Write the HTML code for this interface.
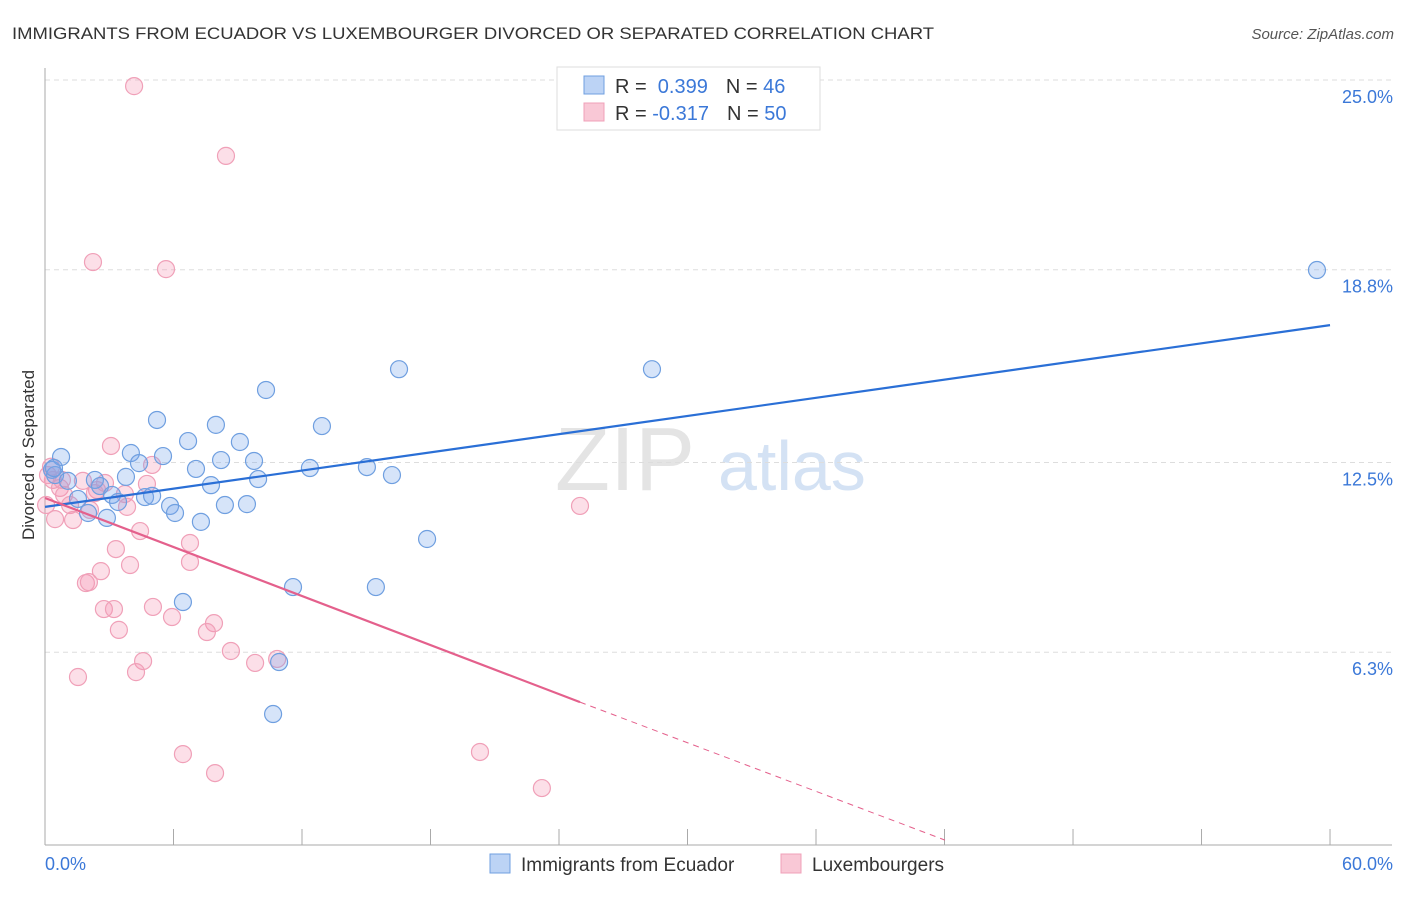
<!DOCTYPE html>
<html><head><meta charset="utf-8"><style>
body{margin:0;background:#fff;font-family:"Liberation Sans",sans-serif;}
svg text{font-family:"Liberation Sans",sans-serif;}
</style></head><body>
<svg id="chart" width="1406" height="892" xmlns="http://www.w3.org/2000/svg">
<text x="12" y="39" font-size="17" fill="#333" textLength="922" lengthAdjust="spacingAndGlyphs">IMMIGRANTS FROM ECUADOR VS LUXEMBOURGER DIVORCED OR SEPARATED CORRELATION CHART</text>
<text x="1394" y="39" font-size="15" fill="#555" font-style="italic" text-anchor="end">Source: ZipAtlas.com</text>
<text x="34" y="455" font-size="17" fill="#333" text-anchor="middle" transform="rotate(-90 34 455)">Divorced or Separated</text>
<text x="555" y="490" font-size="90" fill="#e4e4e4" font-family="Liberation Serif">ZIP</text>
<text x="718" y="490" font-size="70" fill="#d4e2f4">atlas</text>
<g id="grid"></g><g id="axes"></g><g id="pts"></g><g id="trends"></g>
<g>
<rect x="557" y="67" width="263" height="63" fill="#fff" stroke="#ddd"/>
<rect x="584" y="76" width="20" height="18" fill="#bcd3f5" stroke="#6f9fe0"/>
<rect x="584" y="103" width="20" height="18" fill="#f9c8d6" stroke="#f0a0b8"/>
<text x="615" y="93" font-size="20" fill="#333">R = <tspan fill="#3b78d8">&#160;0.399</tspan><tspan dx="18">N = </tspan><tspan fill="#3b78d8">46</tspan></text>
<text x="615" y="120" font-size="20" fill="#333">R = <tspan fill="#3b78d8">-0.317</tspan><tspan dx="18">N = </tspan><tspan fill="#3b78d8">50</tspan></text>
</g>
<g>
<rect x="490" y="854" width="20" height="19" fill="#bcd3f5" stroke="#6f9fe0"/>
<text x="521" y="871" font-size="19" fill="#333">Immigrants from Ecuador</text>
<rect x="781" y="854" width="20" height="19" fill="#f9c8d6" stroke="#f0a0b8"/>
<text x="812" y="871" font-size="19" fill="#333">Luxembourgers</text>
</g>
</svg>
<script>
const yTicks=[25.0,18.8,12.5,6.3];
const yTickLabels=["25.0%","18.8%","12.5%","6.3%"];
const xTickLabels=["0.0%","60.0%"];
const ecuadorX=[0.33,0.47,0.75,1.07,1.54,2.33,2.57,2.01,2.89,3.13,3.41,3.78,4.01,4.39,4.67,5.0,5.23,5.51,5.84,6.07,6.68,7.05,7.28,7.75,7.98,8.22,8.4,9.1,9.43,9.76,9.95,10.32,10.65,10.93,11.58,12.37,12.93,15.03,15.45,16.2,16.53,17.84,28.34,59.39,6.44,0.42];
const ecuadorY=[12.26,12.09,12.68,11.9,11.31,11.93,11.73,10.85,10.69,11.44,11.21,12.03,12.81,12.48,11.37,11.41,13.89,12.71,11.08,10.85,13.2,12.29,10.56,11.76,13.73,12.58,11.11,13.17,11.14,12.55,11.96,14.87,4.28,5.98,8.43,12.32,13.69,12.35,8.43,12.09,15.55,10.0,15.55,18.79,7.94,12.32];
const luxX=[4.16,8.45,2.24,5.65,0.28,0.37,0.7,0.89,1.17,0.47,1.31,1.77,2.1,2.43,2.8,3.08,3.73,3.83,4.44,4.76,5.0,3.31,3.97,2.61,1.91,2.05,2.75,3.22,3.45,5.04,5.93,6.77,6.77,7.89,7.56,8.68,9.81,10.84,4.58,4.25,1.54,6.44,7.94,20.31,23.2,24.98,0.14,0.05,0.79,2.33];
const luxY=[24.8,22.52,19.05,18.82,12.36,11.93,11.67,11.44,11.11,10.65,10.62,11.9,10.95,11.6,11.83,13.04,11.47,11.05,10.26,11.8,12.42,9.67,9.15,8.95,8.56,8.59,7.71,7.71,7.03,7.78,7.45,9.87,9.25,7.25,6.96,6.34,5.95,6.08,6.01,5.65,5.49,2.97,2.35,3.04,1.86,11.08,12.09,11.11,11.93,11.5];
const trendBlue=[11.05,16.99];
const trendPink=[11.34,4.67];
const pinkSolidEnd=24.98, pinkDashEnd=42.02, pinkDashEndY=0.16;

const NS="http://www.w3.org/2000/svg";
const X=v=>45+v*21.417, Y=v=>80+(25-v)*30.6;
function mk(tag,attrs,parent){const e=document.createElementNS(NS,tag);for(const k in attrs)e.setAttribute(k,attrs[k]);document.getElementById(parent).appendChild(e);return e;}
yTicks.forEach((t,i)=>{
  const g=mk('line',{x1:45,x2:1392,y1:Y(t),y2:Y(t),stroke:'#ddd','stroke-dasharray':'5,4'},'grid');
  
  
  const l=mk('text',{x:1393,y:Y(t)+23,'font-size':18,fill:'#3b78d8','text-anchor':'end'},'grid');
  l.textContent=yTickLabels[i];
  
  
});
const ya=mk('line',{x1:45,x2:45,y1:68,y2:845,stroke:'#aaa'},'axes');


const xa=mk('line',{x1:45,x2:1392,y1:845,y2:845,stroke:'#aaa'},'axes');


for(let i=0;i<=10;i++){const t=mk('line',{x1:X(i*6),x2:X(i*6),y1:829,y2:845,stroke:'#aaa'},'axes');

}
[[0,'start',45],[60,'end',1393]].forEach((d,i)=>{const l=mk('text',{x:d[2],y:870,'font-size':18,fill:'#3b78d8','text-anchor':d[1]},'axes');l.textContent=xTickLabels[i];

});
luxX.forEach((v,i)=>{const c=mk('circle',{cx:X(v),cy:Y(luxY[i]),r:8.5,fill:'rgba(244,150,180,0.3)',stroke:'#f0a0b8','stroke-width':1.2},'pts');

});
ecuadorX.forEach((v,i)=>{const c=mk('circle',{cx:X(v),cy:Y(ecuadorY[i]),r:8.5,fill:'rgba(120,165,235,0.3)',stroke:'#6f9fe0','stroke-width':1.2},'pts');

});
const tb=mk('line',{x1:X(0),y1:Y(trendBlue[0]),x2:X(60),y2:Y(trendBlue[1]),stroke:'#2a6fd6','stroke-width':2.2},'trends');


const tp=mk('line',{x1:X(0),y1:Y(trendPink[0]),x2:X(pinkSolidEnd),y2:Y(trendPink[1]),stroke:'#e4608c','stroke-width':2.2},'trends');


const td=mk('line',{x1:X(pinkSolidEnd),y1:Y(trendPink[1]),x2:X(pinkDashEnd),y2:Y(pinkDashEndY),stroke:'#e4608c','stroke-width':1,'stroke-dasharray':'6,5'},'trends');


</script>
</body></html>
